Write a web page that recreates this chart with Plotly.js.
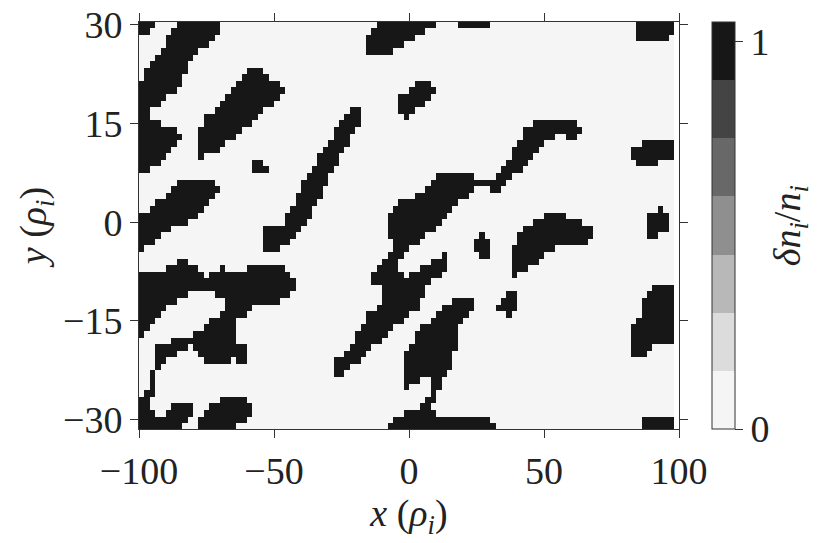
<!DOCTYPE html>
<html>
<head>
<meta charset="utf-8">
<script src="https://cdn.plot.ly/plotly-3.0.1.min.js"></script>
<style>
  html, body { margin: 0; padding: 0; background: #fff; }
  #chart { width: 830px; height: 543px; }
</style>
</head>
<body>
<div id="chart"></div>
<script>
// outlines of the dark regions (delta n_i / n_i ~ 1), in units of rho_i
const blobP = [[-100.1,30.6],[-91.6,30.6],[-97.9,28.3],[-100.1,27.9]];
const blobA = [[-85,30.6],[-70.7,30.6],[-70.7,28.5],[-76.9,26.2],[-80.6,25],[-82.5,24],[-83.1,22.4],[-84.9,20.9],
  [-89.3,18.9],[-91.7,18],[-94.2,17.8],[-95.4,16.6],[-96.7,15.35],[-91.7,14.9],[-88,14.7],[-84.9,13.3],[-84.6,12.2],
  [-86.8,11.3],[-90.5,10],[-94.2,8.5],[-96,7.75],[-100.1,7.5],[-100.1,21.2],[-97.9,22.4],[-96.4,23.45],[-94.8,24.7],
  [-92.3,25.7],[-90.5,27],[-89.3,28.5],[-87.6,29.3],[-86.4,29.9]];
const blobD = [[-57.2,24],[-46.7,20.2],[-47.3,19.1],[-52.2,17.4],[-60.9,14.3],[-67,12.05],[-70.7,11],[-75.1,10.3],
  [-76.3,9.7],[-77.5,9.8],[-77.9,13.8],[-75.7,15.85],[-71.4,17.6],[-64.6,20.7],[-59,23.45]];
const blobE = [[-57.8,9.5],[-55.3,9.8],[-51.6,8],[-52.8,7.65],[-58.4,7.65],[-59.3,8.8]];
const blobF = [[-100.1,1.2],[-94.2,2.7],[-88,5],[-83.7,6.6],[-72,6.5],[-70.7,5.7],[-70.7,4.2],[-75.7,2.2],[-79.4,0.65],
  [-83.1,-0.1],[-89.3,-1.2],[-94.2,-3],[-97.9,-4],[-100.1,-4.5]];
const blobG = [[-20.1,17.9],[-18.9,17.1],[-18.9,14.3],[-22.6,12.3],[-26.3,9.3],[-29.4,6.7],[-33.1,3.2],[-34.9,2.2],
  [-37.4,0.05],[-39.9,-1.5],[-43.6,-3],[-47.3,-4],[-52.9,-4.4],[-54.1,-3.5],[-54.1,-1],[-53.5,-0.6],[-47.3,-0.3],
  [-46,0.65],[-42.3,2.7],[-41.1,4.7],[-37.4,7.2],[-33.1,10.3],[-27.5,13.8],[-22,17.1]];
const blobH = [[-11.5,30.6],[10.75,30.6],[7.7,29.5],[2.1,28.3],[-5.3,26.2],[-6.5,26],[-15.2,26],[-16.7,26.7],
  [-16.4,27.5],[-13.3,28.8],[-12.1,29.8]];
const blobH2 = [[16.3,30.6],[30.5,30.6],[28,29.5],[25.6,28.9],[23.1,29.5],[19.4,29.9]];
const blobI = [[5.8,21.9],[9.5,20.2],[8.9,19.1],[2.1,16.9],[-1,15.9],[-4.7,17.4],[-4.1,18.6],[0.9,20.7],[4,21.4]];
const blobJ = [[84.8,30.6],[97.8,30.6],[97.8,28.3],[95.3,28],[93.4,27.1],[86,27],[84.8,28]];
const blobKL = [[47.7,15.85],[60.1,15.85],[63.2,14.3],[63.2,13.3],[61.3,12.9],[57.6,12.9],[55.2,13.8],[52.7,12.8],
  [49,11.3],[45.3,9.8],[41.6,8.25],[37.9,6.7],[34.8,5.7],[31.7,3.9],[27.4,5.9],[21.3,4.1],[15.1,1.6],[12,0.05],
  [7,-2],[2.1,-3.5],[-3.5,-5.3],[-4.7,-6.3],[-2.8,-7.55],[-1,-8.6],[2.1,-7.55],[7,-6.3],[11.4,-5],[13.2,-4.8],
  [13.8,-7.05],[10.7,-8.3],[5.8,-10.1],[4.6,-12.1],[2.1,-13.6],[-2.8,-15.15],[-6.5,-16.2],[-10.2,-17.7],
  [-14.6,-19.7],[-18.9,-21.2],[-22.6,-22.5],[-26.3,-23.8],[-28.1,-23.25],[-28.8,-21.5],[-26.3,-20.5],
  [-22.6,-19.2],[-19.5,-17.7],[-18.9,-16.2],[-16.4,-15.15],[-15.8,-13.6],[-12.7,-13.1],[-9.6,-11.85],
  [-9,-10.1],[-14,-9.3],[-14,-7.55],[-10.2,-6],[-6.8,-4.5],[-7.2,0.05],[-7.2,0.9],[-5.3,2.2],[-2.2,3.45],
  [0.9,3.7],[4.6,4.7],[8.3,6.2],[12.6,7.65],[22.5,7.65],[24.3,6.7],[26.8,6.2],[28,6.7],[32.4,6.7],[36.1,8.7],
  [38.5,10.7],[39.8,12.25],[42.9,14],[46.5,15.6]];
const blobM = [[88.5,12.6],[97.8,12.6],[97.8,10],[93.4,9.9],[91.6,8.9],[83.6,8.8],[82.3,9.8],[82.9,11.3],[86.6,12.05]];
const blobN = [[92.8,2.6],[95.9,1.1],[95.9,-1.2],[92.8,-2],[88.5,-2.2],[87.5,-1.2],[87.3,0.2],[90,1.5]];
const blobO = [[47.7,0.65],[51.4,1.4],[56.4,1.4],[60.1,0.65],[65,-0.1],[66.3,-0.2],[68.1,-1.5],[68.1,-2.2],
  [64.4,-3.5],[55.2,-3.5],[51.5,-4.5],[46.5,-6.3],[41.6,-7.55],[39.1,-8.6],[37.6,-7.8],[37.9,-4],[40.3,-2.5],
  [40.3,-1.7],[44,-0.45]];
const blobHexA = [[26.8,-1.5],[29.9,-3],[29.9,-5],[27.4,-5.5],[24.3,-4.5],[23.1,-3.25]];
const blobHexB = [[36.6,-10.6],[39.7,-11.1],[39.7,-13.1],[36.6,-14.65],[32.9,-13.1],[32.9,-12.1]];
const blobQ = [[-100.1,-7.55],[-95.4,-7],[-90.5,-7],[-87.4,-6.3],[-83.1,-5.5],[-80,-6.3],[-77.5,-7.55],[-76.3,-8.6],
  [-74.4,-8.05],[-70.7,-7.55],[-69.3,-6.6],[-67.6,-7.55],[-64.6,-7.65],[-59,-7],[-57.2,-6.5],[-47.9,-6.5],
  [-42.3,-9.1],[-42.3,-10.1],[-47.3,-12.1],[-55.9,-12.4],[-60.9,-14.1],[-63.9,-15.15],[-63.9,-18.7],[-60.9,-18.95],
  [-59,-19.95],[-59,-21.7],[-62.1,-21.8],[-64.6,-20.7],[-68.3,-21.3],[-74.4,-21.2],[-77.5,-20.2],[-81.2,-18.7],
  [-85.6,-19.8],[-90.5,-21.2],[-93.6,-22.75],[-94.4,-22.2],[-93.9,-19.2],[-93,-18.8],[-89.3,-18.2],[-85.6,-17.7],
  [-80.6,-17.2],[-75.7,-15.9],[-71.4,-14.4],[-68.3,-13],[-68.3,-12.1],[-71.4,-10.85],[-75.1,-10.3],[-80.6,-10.6],
  [-84.3,-11.35],[-88,-12.6],[-91.7,-13.9],[-94.2,-14.9],[-96.7,-16.2],[-99.1,-17.4],[-100.1,-17.4]];
const blobR = [[-100.1,-26.65],[-97.3,-26.25],[-96.4,-25.2],[-96.2,-23.2],[-94.8,-22.3],[-93.4,-22.7],[-93.8,-25.2],
  [-95.2,-26.75],[-96,-27.5],[-93.6,-29.9],[-91.7,-29.7],[-86.8,-27.5],[-84.3,-27.2],[-80.9,-27.3],[-80,-28.3],
  [-81.2,-30.05],[-84.3,-30.8],[-85.3,-31.6],[-100.1,-31.6]];
const blobS = [[-76.9,-31.6],[-77.5,-29.6],[-73.2,-27.6],[-69.5,-26.7],[-66.4,-26],[-62.7,-26],[-59.6,-27.05],
  [-57.2,-27.6],[-57.2,-29.3],[-60.9,-30.1],[-64.6,-30.95],[-65.8,-31.6]];
const blobTU = [[16.9,-11.85],[28,-12.1],[23.1,-13.4],[19.4,-14.65],[18.2,-16.7],[16.9,-19.7],[16.3,-21.2],
  [14.4,-22.75],[12.6,-23.75],[11,-26],[8.5,-28.2],[12,-29.8],[14.4,-29.1],[26.8,-29.1],[33,-31.6],[-9.6,-31.6],
  [-6.5,-30.1],[-1.6,-29.1],[2.1,-28.3],[5.8,-27.6],[7.7,-26.3],[8.5,-24.5],[5.8,-23.25],[2.1,-24.5],[-1.6,-25.5],
  [-2.6,-23.75],[-2.2,-20.2],[2.1,-18.2],[2.1,-17.2],[5.8,-15.65],[9.5,-14.1],[13.2,-12.6]];
const blobW = [[89.7,-9.6],[97.8,-9.6],[97.8,-18.4],[89.7,-18.95],[86,-20.5],[83.6,-20.7],[82.3,-19.2],[82.3,-16.2],
  [84.8,-14.9],[86,-13.1],[87.3,-11.1]];
const blobX = [[87.9,-29.1],[97.8,-29.1],[97.8,-31.6],[84.8,-31.6],[86.6,-30.1]];

const blobs = [blobP, blobA, blobD, blobE, blobF, blobG, blobH, blobH2, blobI, blobJ, blobKL, blobM, blobN,
  blobO, blobHexA, blobHexB, blobQ, blobR, blobS, blobTU, blobW, blobX];

const xTicks = [-100, -50, 0, 50, 100];
const yTicks = [-30, -15, 0, 15, 30];
const cbarTicks = [0, 1];
const levelColors = ['#f5f5f5', '#dcdcdc', '#b8b8b8', '#8f8f8f', '#686868', '#444444', '#171717'];

// sampling grid of the field
const xs = [];
for (let x = -99; x <= 97; x += 2) xs.push(x);
const ys = [];
for (let y = -31; y <= 30; y += 1) ys.push(y);

function inside(poly, px, py) {
    let c = false;
    for (let i = 0, j = poly.length - 1; i < poly.length; j = i++) {
        const [xi, yi] = poly[i], [xj, yj] = poly[j];
        if ((yi > py) !== (yj > py) && px < (xj - xi) * (py - yi) / (yj - yi) + xi) c = !c;
    }
    return c;
}

const z = ys.map(y => xs.map(x => blobs.some(b => inside(b, x, y)) ? 1 : 0));

// stepped grey scale, 7 levels between 0 and 1.05
const colorscale = [];
levelColors.forEach((c, i) => {
    colorscale.push([i / 7, c]);
    colorscale.push([(i + 1) / 7, c]);
});

const serif = '"Liberation Serif", "Times New Roman", serif';
const textFont = { family: serif, size: 38, color: '#222' };

const trace = {
    type: 'heatmap',
    x: xs, y: ys, z: z,
    zmin: 0, zmax: 1.05,
    zsmooth: false,
    colorscale: colorscale,
    hoverinfo: 'skip',
    colorbar: {
        x: 1.061, xanchor: 'left', xpad: 0,
        y: 0.5, len: 1, ypad: 0,
        thickness: 23,
        outlinecolor: '#333', outlinewidth: 1,
        tickvals: cbarTicks, ticktext: cbarTicks.map(String),
        ticks: 'outside', ticklen: 8, tickcolor: '#333',
        tickfont: textFont
    }
};

const axisBase = {
    showgrid: false, zeroline: false,
    showline: true, linecolor: '#333', linewidth: 1, mirror: 'ticks',
    ticks: 'outside', ticklen: 8, tickcolor: '#333',
    tickfont: textFont
};

const layout = {
    width: 830, height: 543,
    margin: { l: 139, r: 151, t: 22, b: 114 },
    paper_bgcolor: '#fff', plot_bgcolor: '#fff',
    xaxis: Object.assign({}, axisBase, {
        range: [-100, 100], tickvals: xTicks,
        title: { text: '<i>x</i> (<i>ρ<sub>i</sub></i>)', standoff: 8, font: textFont }
    }),
    yaxis: Object.assign({}, axisBase, {
        range: [-31.45, 30.45], tickvals: yTicks,
        title: { text: '<i>y</i> (<i>ρ<sub>i</sub></i>)', standoff: 4, font: textFont }
    }),
    annotations: [{
        // colour bar label, right of the tick labels
        text: '<i>δn<sub>i</sub></i>/<i>n<sub>i</sub></i>',
        xref: 'paper', yref: 'paper', x: 1.205, y: 0.5,
        xanchor: 'center', yanchor: 'middle',
        textangle: -90, showarrow: false, font: textFont
    }]
};

Plotly.newPlot('chart', [trace], layout, { staticPlot: true, displayModeBar: false });
</script>
</body>
</html>
